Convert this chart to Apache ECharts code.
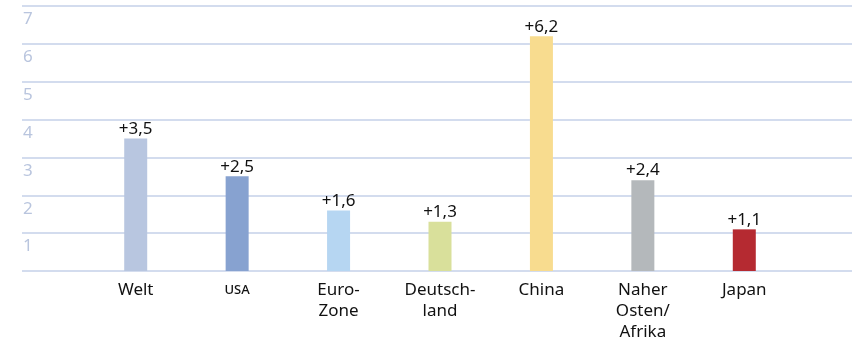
<!DOCTYPE html>
<html>
<head>
<meta charset="utf-8">
<script src="https://cdn.jsdelivr.net/npm/echarts@6/dist/echarts.min.js"></script>
<style>
  html, body { margin: 0; padding: 0; background: #fff; }
  #chart { width: 852px; height: 340px; }
</style>
</head>
<body>
<div id="chart"></div>
<script>
// Wachstum 2015 in % (Regionen)
const categories = ['Welt', 'USA', 'Euro-\nZone', 'Deutsch-\nland', 'China', 'Naher\nOsten/\nAfrika', 'Japan'];
const values = [3.5, 2.5, 1.6, 1.3, 6.2, 2.4, 1.1];
const yTicks = [0, 1, 2, 3, 4, 5, 6, 7];

const barColors = ['#b8c6e0', '#87a2d0', '#b6d6f2', '#d9e09b', '#f8dc8f', '#b4b8bb', '#b52a31'];
const font = '"Noto Sans", "Open Sans", sans-serif';

let chart = echarts.init(document.getElementById('chart'));

chart.setOption({
  animation: false,
  textStyle: { fontFamily: font },
  grid: [
    // Gitterlinien + y-Beschriftung über die volle Breite
    { left: 22, right: 0, top: 6, bottom: 69, outerBoundsMode: 'none' },
    // Balken
    { left: 85, width: 710, top: 6, bottom: 69, outerBoundsMode: 'none' }
  ],
  xAxis: [
    { gridIndex: 0, type: 'value', show: false },
    {
      gridIndex: 1,
      type: 'category',
      data: categories,
      axisLine: { show: false },
      axisTick: { show: false },
      axisLabel: {
        margin: 9,
        fontSize: 17,
        lineHeight: 21,
        color: '#111',
        fontFamily: font,
        formatter: function (v) {
          return v === 'USA' ? '{sc|USA}' : v;
        },
        rich: {
          sc: { fontSize: 13, lineHeight: 21, color: '#111', fontFamily: font, fontWeight: 500 }
        }
      }
    }
  ],
  yAxis: [
    {
      gridIndex: 0,
      type: 'value',
      min: yTicks[0],
      max: yTicks[yTicks.length - 1],
      interval: 1,
      axisLine: { show: false },
      axisTick: { show: false },
      splitLine: { lineStyle: { color: '#c5d0e8', width: 1.5 } },
      axisLabel: {
        inside: true,
        margin: 1,
        align: 'left',
        verticalAlign: 'top',
        padding: [5, 0, 0, 0],
        fontSize: 17,
        color: '#b9c5de',
        fontFamily: font,
        formatter: function (v) { return v === 0 ? '' : String(v); }
      }
    },
    {
      gridIndex: 1,
      type: 'value',
      min: yTicks[0],
      max: yTicks[yTicks.length - 1],
      show: false
    }
  ],
  series: [
    {
      type: 'bar',
      xAxisIndex: 1,
      yAxisIndex: 1,
      barWidth: 23,
      data: values.map(function (v, i) {
        return { value: v, itemStyle: { color: barColors[i] } };
      }),
      label: {
        show: true,
        position: 'top',
        distance: 1,
        fontSize: 17,
        color: '#111',
        fontFamily: font,
        formatter: function (p) {
          return '+' + p.value.toFixed(1).replace('.', ',');
        }
      }
    }
  ]
});
</script>
</body>
</html>
